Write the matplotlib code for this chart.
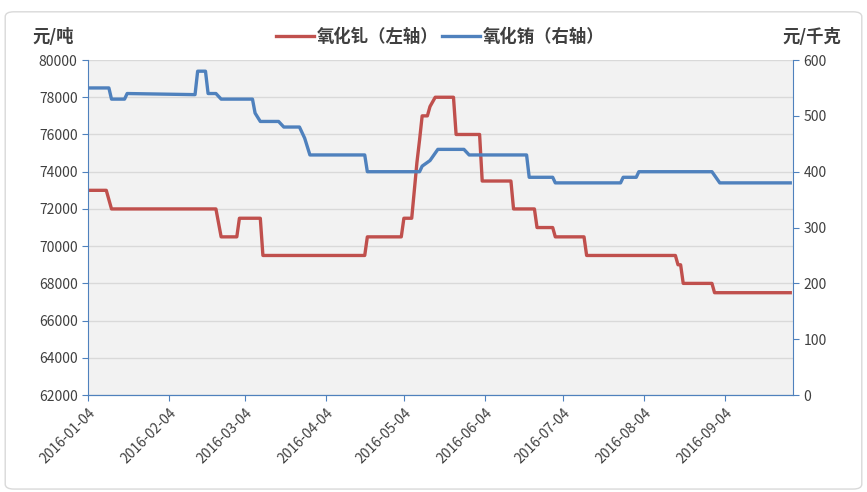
import numpy as np
import matplotlib
matplotlib.use("Agg")
import matplotlib.pyplot as plt
import matplotlib.dates as mdates
from matplotlib.patches import FancyBboxPatch

plt.rcParams['font.family'] = ['Noto Sans CJK SC', 'DejaVu Sans']

# 氧化钆 (左轴, 元/吨)
gd_dates = ['2016-01-04', '2016-01-11', '2016-01-13', '2016-02-22', '2016-02-24', '2016-03-01',
            '2016-03-02', '2016-03-10', '2016-03-11', '2016-04-19', '2016-04-20', '2016-05-03',
            '2016-05-04', '2016-05-07', '2016-05-08', '2016-05-09', '2016-05-10', '2016-05-11',
            '2016-05-13', '2016-05-14', '2016-05-16', '2016-05-23', '2016-05-24', '2016-06-02',
            '2016-06-03', '2016-06-14', '2016-06-15', '2016-06-23', '2016-06-24', '2016-06-30',
            '2016-07-01', '2016-07-12', '2016-07-13', '2016-08-16', '2016-08-17', '2016-08-18',
            '2016-08-19', '2016-08-30', '2016-08-31', '2016-09-29']
gd_values = [73000, 73000, 72000, 72000, 70500, 70500,
             71500, 71500, 69500, 69500, 70500, 70500,
             71500, 71500, 73000, 74500, 75700, 77000,
             77000, 77500, 78000, 78000, 76000, 76000,
             73500, 73500, 72000, 72000, 71000, 71000,
             70500, 70500, 69500, 69500, 69000, 69000,
             68000, 68000, 67500, 67500]

# 氧化铕 (右轴, 元/千克)
eu_dates = ['2016-01-04', '2016-01-12', '2016-01-13', '2016-01-18', '2016-01-19', '2016-02-14',
            '2016-02-15', '2016-02-18', '2016-02-19', '2016-02-22', '2016-02-24', '2016-03-07',
            '2016-03-08', '2016-03-10', '2016-03-17', '2016-03-19', '2016-03-25', '2016-03-27',
            '2016-03-29', '2016-04-19', '2016-04-20', '2016-05-10', '2016-05-11', '2016-05-14',
            '2016-05-17', '2016-05-27', '2016-05-29', '2016-06-20', '2016-06-21', '2016-06-30',
            '2016-07-01', '2016-07-26', '2016-07-27', '2016-08-01', '2016-08-02', '2016-08-30',
            '2016-09-02', '2016-09-29']
eu_values = [550, 550, 530, 530, 540, 538,
             580, 580, 540, 540, 530, 530,
             505, 490, 490, 480, 480, 460,
             430, 430, 400, 400, 410, 420,
             440, 440, 430, 430, 390, 390,
             380, 380, 390, 390, 400, 400,
             380, 380]

tick_dates = ['2016-01-04', '2016-02-04', '2016-03-04', '2016-04-04', '2016-05-04',
              '2016-06-04', '2016-07-04', '2016-08-04', '2016-09-04']

red = '#c0504d'
blue = '#4f81bd'
txt = '#404040'

fig = plt.figure(figsize=(8.67, 4.92), dpi=100)
frame = FancyBboxPatch((0.006, 0.006), 0.988, 0.97, boxstyle='round,pad=0,rounding_size=0.01',
                       transform=fig.transFigure, facecolor='white', edgecolor='#d9d9d9', lw=1, zorder=-10)
fig.patches.append(frame)
ax = fig.add_axes([0.1015, 0.197, 0.813, 0.681])
ax2 = ax.twinx()

ax.set_facecolor('#f2f2f2')
ax.plot(np.array(gd_dates, dtype='datetime64[D]'), gd_values, color=red, lw=2.4, label='氧化钆（左轴）')
ax2.plot(np.array(eu_dates, dtype='datetime64[D]'), eu_values, color=blue, lw=2.4, label='氧化铕（右轴）')

ax.set_xlim(np.datetime64('2016-01-04'), np.datetime64('2016-09-30'))
ax.set_ylim(62000, 80000)
ax.set_yticks(range(62000, 80001, 2000))
ax2.set_ylim(0, 600)
ax2.set_yticks(range(0, 601, 100))
ax.set_xticks(np.array(tick_dates, dtype='datetime64[D]'))
ax.xaxis.set_major_formatter(mdates.DateFormatter('%Y-%m-%d'))
plt.setp(ax.get_xticklabels(), rotation=45, ha='right', rotation_mode='anchor')

ax.grid(axis='y', color='#d9d9d9', lw=1)
ax.set_axisbelow(True)
for a in (ax, ax2):
    a.spines['top'].set_visible(False)
    for s in ('left', 'right', 'bottom'):
        a.spines[s].set_color(blue)
    a.tick_params(colors=blue, labelcolor=txt, labelsize=10, length=4)
ax2.spines['left'].set_visible(False)
ax.spines['right'].set_visible(False)

fig.text(0.037, 0.925, '元/吨', fontsize=12.5, fontweight='bold', color=txt, va='center')
fig.text(0.903, 0.925, '元/千克', fontsize=12.5, fontweight='bold', color=txt, va='center')

h1, l1 = ax.get_legend_handles_labels()
h2, l2 = ax2.get_legend_handles_labels()
leg = fig.legend(h1 + h2, l1 + l2, loc='center', bbox_to_anchor=(0.508, 0.925), ncol=2, frameon=False,
                 handlelength=2.2, columnspacing=0.2, handletextpad=0.15,
                 prop={'size': 12.5, 'weight': 'bold'})
for t in leg.get_texts():
    t.set_color(txt)

fig.savefig('out.png', dpi=100)
